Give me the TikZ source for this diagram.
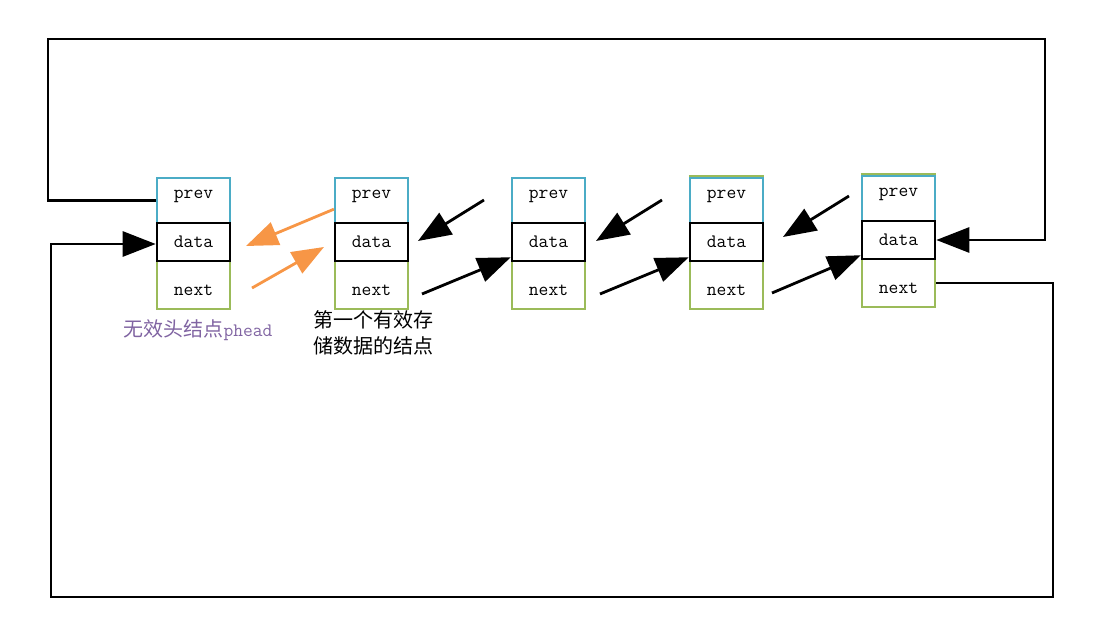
\documentclass[tikz,border=0pt]{standalone}
\usepackage{fontspec}
\usepackage{xcolor}
\usetikzlibrary{arrows.meta}
\newfontfamily\cjk{Noto Sans CJK SC}
\definecolor{cellblue}{HTML}{4BACC6}
\definecolor{cellgreen}{HTML}{9BBB59}
\definecolor{linkorange}{HTML}{F79646}
\definecolor{labelpurple}{HTML}{8064A2}
\begin{document}
\begin{tikzpicture}[x=1pt,y=-1pt,
    cell/.style={minimum width=73pt, inner sep=0pt, line width=2.2pt, font=\fontsize{19}{21}\ttfamily},
    link/.style={line width=2.8pt, line join=miter, -{Triangle[length=33pt,width=25pt]}},
    back/.style={link, linkorange, line width=2.8pt, -{Triangle[length=32pt,width=24pt]}}]
  \useasboundingbox (0,0) rectangle (1103,628);
  % the five nodes: prev / data / next
  \foreach \i/\x/\y in {1/193.5/0, 2/371.5/0, 3/548.5/0, 4/726.5/0, 5/898.5/-2} {
    \node[cell, draw=cellblue, minimum height=45pt, text depth=13pt] (p\i) at (\x,200.5+\y) {prev};
    \node[cell, draw=cellgreen, minimum height=48pt, text height=21pt, text depth=0pt] (n\i) at (\x,285+\y) {next};
    \node[cell, draw=black, line width=2.6pt, minimum height=38pt] (d\i) at (\x,242+\y) {data};
  }
  \foreach \i in {4,5}
    \draw[cellgreen, line width=2pt] ([yshift=1.2pt]p\i.north west) -- ([yshift=1.2pt]p\i.north east);
  % free ends of the links
  \coordinate (b1) at (246,246);
  \coordinate (f1) at (252,288);
  \coordinate (f1t) at (324,247);
  \foreach \i/\x/\y in {2/418/0, 3/596/0, 4/783/-4} {
    \coordinate (s\i) at (\x+66,200+\y);
    \coordinate (t\i) at (\x,241+\y);
  }
  \coordinate (r2) at (422,294);
  \coordinate (r3) at (600,294);
  \coordinate (r4) at (772,293);
  % links
  \draw[back] (p2.193) -- (b1);
  \draw[back] (f1) -- (f1t);
  \foreach \i in {2,3,4}
    \draw[link] (s\i) -- (t\i);
  \foreach \i/\j in {2/3,3/4,4/5}
    \draw[link] (r\i) -- (d\j.202);
  \draw[link] (p1.west) -- (48,200.5) -- (48,39) -- (1045,39) |- (d5.east);
  \draw[link] (n5.east) -| (1053,597) -| (51,244) -- (d1.west |- 51,244);
  % labels
  \node[labelpurple, font=\fontsize{20}{22}\cjk] (lhead) at (198,330)
    {无效头结点{\fontsize{19}{22}\ttfamily phead}};
  \node[anchor=north west, align=left, inner sep=0pt, font=\fontsize{20}{26}\cjk] (lfirst) at (313,310)
    {第一个有效存\\储数据的结点};
\end{tikzpicture}
\end{document}
